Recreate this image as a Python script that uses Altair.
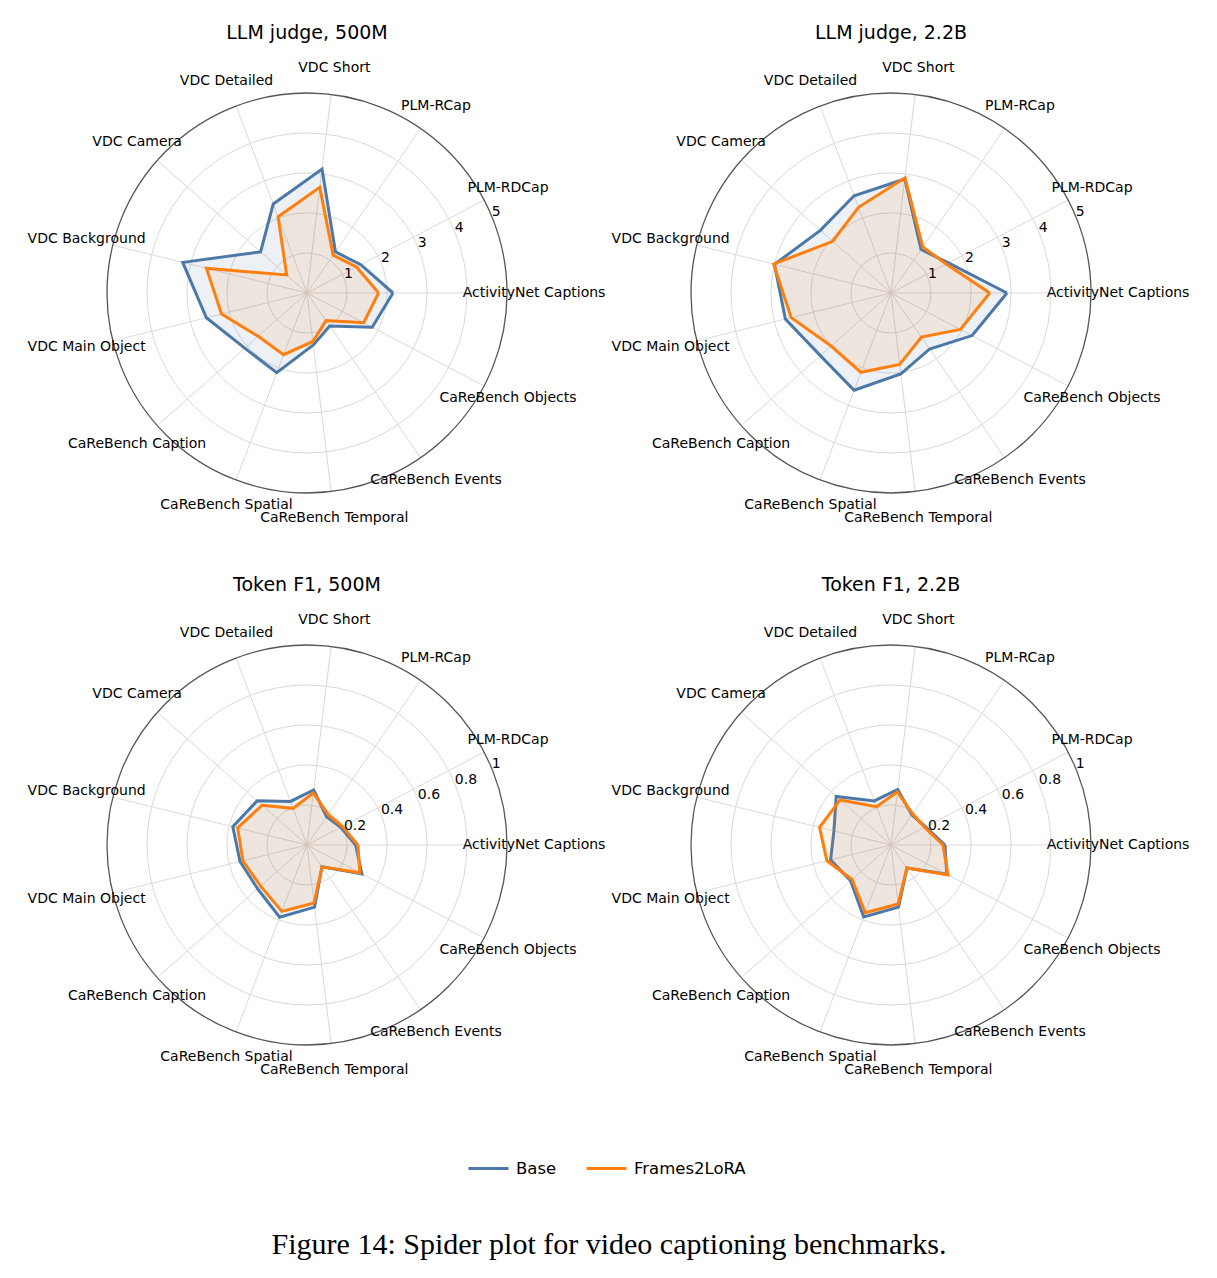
import altair as alt
import pandas as pd

# Benchmarks, counter-clockwise from the right-hand spoke
CATEGORIES = [
    "ActivityNet Captions", "PLM-RDCap", "PLM-RCap", "VDC Short", "VDC Detailed",
    "VDC Camera", "VDC Background", "VDC Main Object", "CaReBench Caption",
    "CaReBench Spatial", "CaReBench Temporal", "CaReBench Events", "CaReBench Objects",
]
SERIES = ["Base", "Frames2LoRA"]
PANEL_TITLES = ["LLM judge, 500M", "LLM judge, 2.2B", "Token F1, 500M", "Token F1, 2.2B"]

# LLM-judge scores (0-5)
LLM_500M_BASE = [2.15, 1.52, 1.25, 3.12, 2.38, 1.55, 3.20, 2.59, 2.08, 2.13, 1.31, 1.00, 1.84]
LLM_500M_LORA = [1.79, 1.40, 1.15, 2.66, 2.04, 0.68, 2.59, 2.20, 1.63, 1.65, 1.22, 0.84, 1.60]
LLM_2B_BASE = [2.90, 1.62, 1.32, 2.87, 2.60, 2.36, 3.00, 2.72, 2.36, 2.60, 2.04, 1.70, 2.29]
LLM_2B_LORA = [2.47, 1.56, 1.40, 2.90, 2.29, 1.95, 3.02, 2.57, 2.00, 2.12, 1.80, 1.34, 1.96]

# Token F1 (0-1)
F1_500M_BASE = [0.243, 0.190, 0.172, 0.277, 0.233, 0.333, 0.382, 0.345, 0.330, 0.386, 0.313, 0.132, 0.310]
F1_500M_LORA = [0.255, 0.200, 0.186, 0.262, 0.196, 0.300, 0.357, 0.330, 0.310, 0.355, 0.292, 0.133, 0.298]
F1_2B_BASE = [0.270, 0.195, 0.183, 0.280, 0.236, 0.366, 0.294, 0.311, 0.270, 0.385, 0.313, 0.140, 0.315]
F1_2B_LORA = [0.260, 0.190, 0.190, 0.268, 0.205, 0.340, 0.368, 0.330, 0.260, 0.362, 0.297, 0.140, 0.322]

LLM_TICKS = [1, 2, 3, 4, 5]
LLM_TICK_LABELS = ["1", "2", "3", "4", "5"]
F1_TICKS = [0.2, 0.4, 0.6, 0.8, 1.0]
F1_TICK_LABELS = ["0.2", "0.4", "0.6", "0.8", "1"]

CAPTION = "Figure 14: Spider plot for video captioning benchmarks."

# ---- figure geometry (pixels) ----
FIG_W, FIG_H = 1217, 1278
RADIUS = 200
LABEL_RADIUS = 227
TITLE_RISE = 260
PANEL_CENTERS = [(307, 293), (891, 293), (307, 845), (891, 845)]
N = len(CATEGORIES)

BLUE = "#4c78a8"
ORANGE = "#ff7f0e"
GRID = "#d9d9d9"
SPINE = "#555555"
FONT = "DejaVu Sans"

panels = [
    (PANEL_TITLES[0], LLM_500M_BASE, LLM_500M_LORA, LLM_TICKS, LLM_TICK_LABELS),
    (PANEL_TITLES[1], LLM_2B_BASE, LLM_2B_LORA, LLM_TICKS, LLM_TICK_LABELS),
    (PANEL_TITLES[2], F1_500M_BASE, F1_500M_LORA, F1_TICKS, F1_TICK_LABELS),
    (PANEL_TITLES[3], F1_2B_BASE, F1_2B_LORA, F1_TICKS, F1_TICK_LABELS),
]

poly_rows, spoke_rows, ring_rows, label_rows, tick_rows, title_rows = [], [], [], [], [], []
for p, ((title, base, lora, ticks, tick_labels), (cx, cy)) in enumerate(zip(panels, PANEL_CENTERS)):
    rmax = ticks[-1]
    title_rows.append(dict(panel=p, title=title, cx=cx, cy=cy))
    for name, vals in zip(SERIES, (base, lora)):
        # close each polygon by returning to the first benchmark
        for k in range(N + 1):
            poly_rows.append(dict(panel=p, series=name, idx=k, value=vals[k % N],
                                  cx=cx, cy=cy, rmax=rmax))
    for k, cat in enumerate(CATEGORIES):
        spoke_rows.append(dict(panel=p, idx=k, cx=cx, cy=cy))
        label_rows.append(dict(panel=p, idx=k, category=cat, cx=cx, cy=cy))
    for t, lab in zip(ticks, tick_labels):
        ring_rows.append(dict(panel=p, tick=t, rmax=rmax, cx=cx, cy=cy,
                              outer=t == rmax))
        tick_rows.append(dict(panel=p, tick=t, label=lab, rmax=rmax, cx=cx, cy=cy))

poly_df = pd.DataFrame(poly_rows)
spoke_df = pd.DataFrame(spoke_rows)
ring_df = pd.DataFrame(ring_rows)
label_df = pd.DataFrame(label_rows)
tick_df = pd.DataFrame(tick_rows)
title_df = pd.DataFrame(title_rows)
caption_df = pd.DataFrame([dict(text=CAPTION)])

xs = alt.Scale(domain=[0, FIG_W], nice=False, zero=False)
ys = alt.Scale(domain=[0, FIG_H], nice=False, zero=False, reverse=True)

ANG = f"datum.idx * 2 * PI / {N}"


def X(field):
    return alt.X(f"{field}:Q", scale=xs, axis=None)


def Y(field):
    return alt.Y(f"{field}:Q", scale=ys, axis=None)


# concentric grid rings and the outer frame circle
rings = alt.Chart(ring_df).transform_calculate(
    rpx=f"datum.tick / datum.rmax * {RADIUS}"
)
inner_rings = rings.transform_filter("!datum.outer").mark_arc(
    theta=0, theta2=6.3, fillOpacity=0, stroke=GRID, strokeWidth=1
).encode(x=X("cx"), y=Y("cy"), radius=alt.Radius("rpx:Q", scale=None, stack=None))
outer_ring = rings.transform_filter("datum.outer").mark_arc(
    theta=0, theta2=6.3, fillOpacity=0, stroke=SPINE, strokeWidth=1.3
).encode(x=X("cx"), y=Y("cy"), radius=alt.Radius("rpx:Q", scale=None, stack=None))

# one spoke per benchmark
spokes = alt.Chart(spoke_df).transform_calculate(
    ex=f"datum.cx + {RADIUS} * cos({ANG})",
    ey=f"datum.cy - {RADIUS} * sin({ANG})",
).mark_rule(color=GRID, strokeWidth=1).encode(
    x=X("cx"), y=Y("cy"), x2="ex:Q", y2="ey:Q"
)

color_scale = alt.Scale(domain=SERIES, range=[BLUE, ORANGE])


def polygon(series_name, fill, legend):
    return alt.Chart(poly_df).transform_filter(
        alt.datum.series == series_name
    ).transform_calculate(
        px=f"datum.cx + datum.value / datum.rmax * {RADIUS} * cos({ANG})",
        py=f"datum.cy - datum.value / datum.rmax * {RADIUS} * sin({ANG})",
    ).mark_line(
        strokeWidth=3, fill=fill, fillOpacity=0.1, strokeJoin="miter"
    ).encode(
        x=X("px"), y=Y("py"),
        order="idx:Q",
        detail="panel:N",
        color=alt.Color("series:N", scale=color_scale, legend=legend),
    )


legend = alt.Legend(
    orient="none", legendX=467, legendY=1147, direction="horizontal", title=None,
    symbolType="stroke", symbolSize=1600, symbolStrokeWidth=3,
    labelFont=FONT, labelFontSize=16.5, labelColor="#000000", labelOffset=6,
    columnPadding=23,
)
base_poly = polygon("Base", BLUE, legend)
lora_poly = polygon("Frames2LoRA", ORANGE, legend)

# benchmark names around each panel
labels = alt.Chart(label_df).transform_calculate(
    lx=f"datum.cx + {LABEL_RADIUS} * cos({ANG})",
    ly=f"datum.cy - {LABEL_RADIUS} * sin({ANG})",
).mark_text(font=FONT, fontSize=14, color="#000000", align="center", baseline="middle").encode(
    x=X("lx"), y=Y("ly"), text="category:N"
)

# radial tick labels along the 22.5-degree direction
tick_labels = alt.Chart(tick_df).transform_calculate(
    tx=f"datum.cx + datum.tick / datum.rmax * {RADIUS} * cos(PI / 8)",
    ty=f"datum.cy - datum.tick / datum.rmax * {RADIUS} * sin(PI / 8)",
).mark_text(font=FONT, fontSize=14, color="#000000", align="left", baseline="alphabetic").encode(
    x=X("tx"), y=Y("ty"), text="label:N"
)

titles = alt.Chart(title_df).transform_calculate(
    ty=f"datum.cy - {TITLE_RISE}"
).mark_text(font=FONT, fontSize=19, color="#000000", align="center", baseline="middle").encode(
    x=X("cx"), y=Y("ty"), text="title:N"
)

caption = alt.Chart(caption_df).mark_text(
    font="Liberation Serif", fontSize=30, color="#000000", align="center", baseline="middle"
).encode(x=alt.value(609), y=alt.value(1245), text="text:N")

chart = alt.layer(
    inner_rings, spokes, base_poly, lora_poly, outer_ring, labels, tick_labels, titles, caption
).properties(
    width=FIG_W, height=FIG_H, autosize="none", padding=0,
).configure(background="#ffffff", view=alt.ViewConfig(stroke=None))

chart.save("out.html", embed_options={"renderer": "svg", "actions": False})
